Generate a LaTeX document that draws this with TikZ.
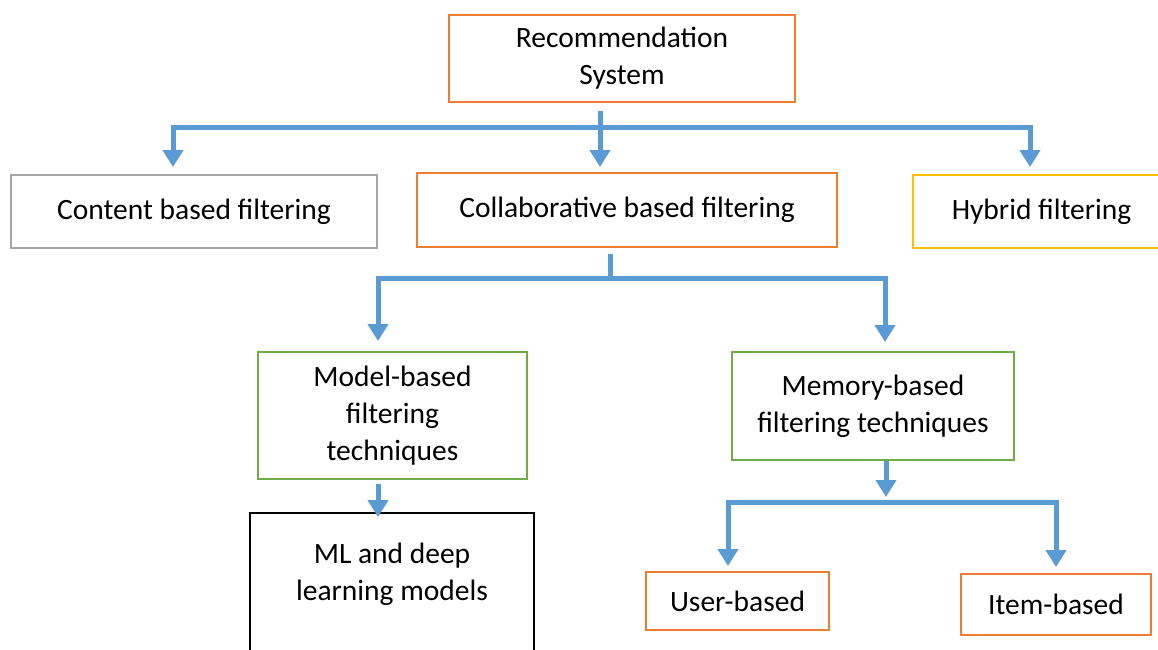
\documentclass[tikz,border=0pt]{standalone}
\usepackage{fontspec}
\setmainfont{Carlito}
\usetikzlibrary{arrows.meta}
\definecolor{linkblue}{HTML}{5B9BD5}
\definecolor{boxorange}{HTML}{ED7D31}
\definecolor{boxgreen}{HTML}{70AD47}
\definecolor{boxyellow}{HTML}{FFC000}
\definecolor{boxgray}{HTML}{A5A5A5}
\tikzset{
  box/.style={draw,line width=2pt,align=center,inner sep=0pt,font=\fontsize{29.5}{37}\selectfont},
  orangebox/.style={box,draw=boxorange},
  graybox/.style={box,draw=boxgray},
  yellowbox/.style={box,draw=boxyellow},
  greenbox/.style={box,draw=boxgreen},
  blackbox/.style={box,draw=black},
  flow/.style={draw=linkblue,line width=5pt,-{Triangle[width=20pt,length=17pt]}},
  bus/.style={draw=linkblue,line width=5pt},
}

\begin{document}
\begin{tikzpicture}[x=1pt,y=-1pt]
      \clip (0,0) rectangle (1158,649);
      % boxes
      \node[orangebox,minimum width=346pt,minimum height=87pt] (rec) at (622,58.5) {Recommendation\\System};
      \node[graybox,minimum width=366pt,minimum height=73pt] (content) at (194,211.5) {Content based filtering};
      \node[orangebox,minimum width=420pt,minimum height=74pt] (collab) at (627,210) {Collaborative based filtering};
      \node[yellowbox,minimum width=257pt,minimum height=73pt] (hybrid) at (1041.5,211.5) {Hybrid filtering};
      \node[greenbox,minimum width=269pt,minimum height=127pt] (model) at (392.5,415.5) {Model-based\\filtering\\techniques};
      \node[greenbox,minimum width=282pt,minimum height=108pt] (memory) at (873,406) {Memory-based\\filtering techniques};
      \node[blackbox,minimum width=284pt,minimum height=154pt] (ml) at (392,590) {ML and deep\\learning models\\\mbox{}};
      \node[orangebox,minimum width=183pt,minimum height=58pt] (user) at (737.5,601) {User-based};
      \node[orangebox,minimum width=190pt,minimum height=61pt] (item) at (1056,604.5) {Item-based};
      % junctions
      \coordinate (j1) at (600,127.5);
      \coordinate (j1l) at (173,127.5);
      \coordinate (j1r) at (1030,127.5);
      \coordinate (j2) at (610,278);
      \coordinate (j2l) at (378,278);
      \coordinate (j2r) at (885,278);
      \coordinate (j3) at (886,502);
      \coordinate (j3l) at (728,502);
      \coordinate (j3r) at (1056,502);
      % connectors
      \draw[flow,shorten <=8pt,shorten >=5pt] (rec.south -| j1)--(collab.north -| j1);
      \draw[flow,shorten >=7pt] (j1)--(j1l)--(j1l |- content.north);
      \draw[flow,shorten >=7pt] (j1)--(j1r)--(j1r |- hybrid.north);
      \draw[bus,shorten <=6pt] (collab.south -| j2)--(j2);
      \draw[flow,shorten >=10pt] (j2)--(j2l)--(j2l |- model.north);
      \draw[flow,shorten >=9pt] (j2)--(j2r)--(j2r |- memory.north);
      \draw[flow,shorten <=4pt,shorten >=-5pt] (model.south -| j2l)--(ml.north -| j2l);
      \draw[flow,shorten >=5pt] (memory.south -| j3)--(j3);
      \draw[flow,shorten >=5pt] (j3)--(j3l)--(j3l |- user.north);
      \draw[flow,shorten >=6pt] (j3)--(j3r)--(j3r |- item.north);
    \end{tikzpicture}
\end{document}
